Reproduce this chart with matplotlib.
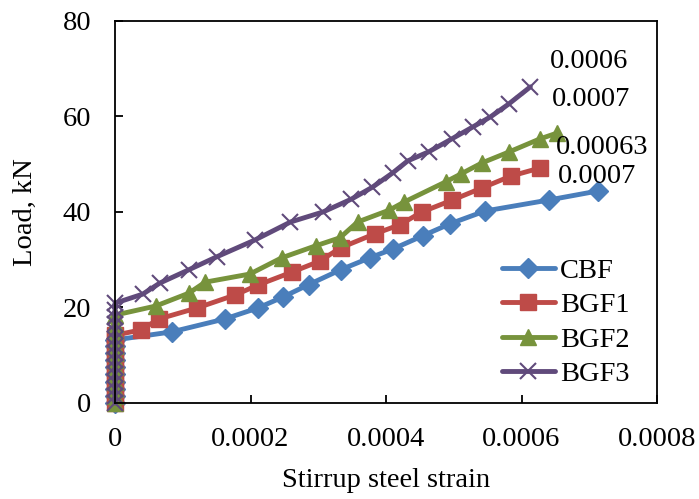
import matplotlib
matplotlib.use("Agg")
import matplotlib.pyplot as plt

plt.rcParams['font.family'] = ['Liberation Serif', 'DejaVu Serif']

# loads recorded before the stirrups started to strain (strain = 0)
cbf_zero = [0, 1.5, 3, 4.5, 6, 7.5, 9, 10.5, 12]
bgf1_zero = [0, 1.5, 3, 4.5, 6, 7.5, 9, 10.5, 12, 13.5]
bgf2_zero = [0, 1.5, 3, 4.5, 6, 7.5, 9, 10.5, 12, 13.5, 15, 16.5]
bgf3_zero = [0, 1.5, 3, 4.5, 6, 7.5, 9, 10.5, 12, 13.5, 15, 16.5, 18, 19.5]

# strain / load after first straining
cbf_x = [0, 0.000084, 0.000162, 0.000211, 0.000248, 0.000286, 0.000333, 0.000376,
         0.000411, 0.000454, 0.000494, 0.000546, 0.00064, 0.000713]
cbf_y = [13.2, 14.9, 17.6, 19.9, 22.2, 24.8, 27.9, 30.4, 32.3, 35.0, 37.5, 40.2, 42.5, 44.4]

bgf1_x = [0, 0.000038, 0.000065, 0.000121, 0.000177, 0.000211, 0.000261, 0.000302,
          0.000333, 0.000383, 0.00042, 0.000453, 0.000498, 0.000541, 0.000584, 0.000627]
bgf1_y = [14.2, 15.3, 17.6, 19.9, 22.6, 24.7, 27.4, 29.7, 32.5, 35.4, 37.3, 40.0, 42.5,
          45.0, 47.5, 49.2]

bgf2_x = [0, 0.00006, 0.000109, 0.000133, 0.000199, 0.000246, 0.000296, 0.000332,
          0.000358, 0.000405, 0.000427, 0.000488, 0.000511, 0.000542, 0.000582,
          0.000627, 0.000652]
bgf2_y = [18.4, 20.3, 23.0, 25.3, 27.0, 30.4, 32.9, 34.6, 37.9, 40.4, 42.1, 46.3, 48.0,
          50.3, 52.6, 55.3, 56.5]

bgf3_x = [0, 0.000041, 0.000066, 0.000109, 0.00015, 0.000206, 0.000259, 0.000307,
          0.000349, 0.00038, 0.00041, 0.000432, 0.000463, 0.000497, 0.000528,
          0.000554, 0.000581, 0.000613]
bgf3_y = [20.9, 22.8, 25.1, 27.9, 30.6, 34.1, 37.9, 40.0, 42.7, 45.2, 48.2, 50.7, 52.6,
          55.3, 57.8, 59.9, 62.6, 66.2]

labels = ['CBF', 'BGF1', 'BGF2', 'BGF3']
end_notes = ['0.0006', '0.0007', '0.00063', '0.0007']
note_x = [0.000642, 0.000645, 0.000650, 0.000654]
note_y = [71.5, 63.5, 53.5, 47.5]

x_ticks = [0, 0.0002, 0.0004, 0.0006, 0.0008]
y_ticks = [0, 20, 40, 60, 80]

FS = 20.5

fig = plt.figure(figsize=(6.99, 4.99), dpi=100)
ax = fig.add_axes([0.1645, 0.1924, 0.7755, 0.7656])

series = [
    (cbf_zero, cbf_x, cbf_y, '#4A7EBB', 'D', 10, 1),
    (bgf1_zero, bgf1_x, bgf1_y, '#BE4B48', 's', 11, 1),
    (bgf2_zero, bgf2_x, bgf2_y, '#77933C', '^', 12, 1),
    (bgf3_zero, bgf3_x, bgf3_y, '#604A7B', 'x', 12, 1.5),
]

for (zero, xs, ys, col, mk, ms, mew), lab in zip(series, labels):
    xx = [0] * len(zero) + xs
    yy = zero + ys
    ax.plot(xx, yy, color=col, lw=3.5, marker=mk, ms=ms, mew=mew,
            mfc=col, mec=col, label=lab, solid_capstyle='round', clip_on=False)

for t, tx, ty in zip(end_notes, note_x, note_y):
    ax.text(tx, ty, t, fontsize=FS, va='center', ha='left')

ax.set_xlim(0, 0.0008)
ax.set_ylim(0, 80)
ax.set_xticks(x_ticks)
ax.set_xticklabels(['%g' % v for v in x_ticks])
ax.set_yticks(y_ticks)
ax.tick_params(direction='in', length=6, width=1.3, labelsize=FS, pad=17)
for s in ax.spines.values():
    s.set_linewidth(1.3)

ax.set_xlabel('Stirrup steel strain', fontsize=FS, labelpad=12)
ax.set_ylabel('Load, kN', fontsize=FS, labelpad=18)

ax.legend(loc='center left', frameon=False, fontsize=FS, handlelength=1.85,
          handletextpad=0.18, labelspacing=0.3, borderpad=0, borderaxespad=0,
          bbox_to_anchor=(0.714, 0.211))

fig.savefig('out.png', dpi=100)
